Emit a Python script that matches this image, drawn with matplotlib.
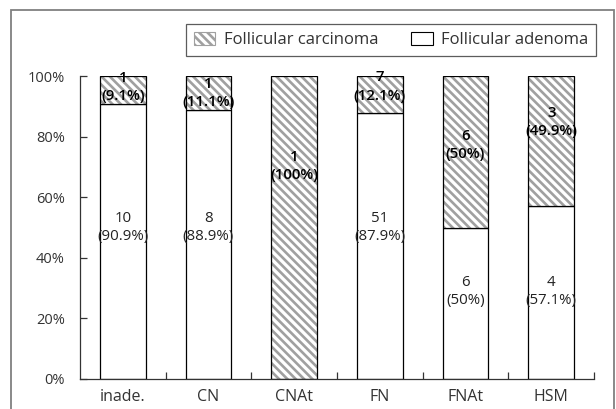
import matplotlib
matplotlib.use("Agg")
import matplotlib.pyplot as plt
from matplotlib.patches import Rectangle, Patch
import numpy as np

plt.rcParams['font.family'] = ['Open Sans', 'DejaVu Sans']
plt.rcParams['hatch.linewidth'] = 1.9

categories = ['inade.', 'CN', 'CNAt', 'FN', 'FNAt', 'HSM']
adenoma_n = [10, 8, 0, 51, 6, 4]
adenoma_pct = [90.9, 88.9, 0.0, 87.9, 50.0, 57.1]
adenoma_txt = ['(90.9%)', '(88.9%)', '', '(87.9%)', '(50%)', '(57.1%)']
carcinoma_n = [1, 1, 1, 7, 6, 3]
carcinoma_pct = [9.1, 11.1, 100.0, 12.1, 50.0, 42.9]
carcinoma_txt = ['(9.1%)', '(11.1%)', '(100%)', '(12.1%)', '(50%)', '(49.9%)']
# label anchor heights (percent scale)
carc_label_y = [99.4, 97.4, 73.4, 99.6, 80.2, 87.8]
aden_label_y = [53.1, 53.1, 0, 53.1, 32.0, 32.0]
yticks = [0, 20, 40, 60, 80, 100]

W, H = 616, 409
fig = plt.figure(figsize=(W / 100, H / 100), dpi=100)
ax = fig.add_axes([80 / W, 1 - 379 / H, (594 - 80) / W, (379 - 76) / H])

x = np.arange(len(categories))
bw = 0.53
hatch_col = '#a0a0a0'
HATCH = '\\\\\\\\'
FS = 10.8
# adenoma (white)
ax.bar(x, adenoma_pct, bw, color='white', edgecolor='black', linewidth=0.9, zorder=2)
# carcinoma hatched fill
ax.bar(x, carcinoma_pct, bw, bottom=adenoma_pct, color='white', edgecolor=hatch_col,
       hatch=HATCH, linewidth=0, zorder=2)
ax.bar(x, carcinoma_pct, bw, bottom=adenoma_pct, fill=False, edgecolor='black',
       linewidth=0.9, zorder=3)

dy = 6.1
for i in range(len(categories)):
    if adenoma_n[i] > 0:
        ax.text(x[i], aden_label_y[i], str(adenoma_n[i]), ha='center', va='center',
                fontsize=FS, color='#222222', zorder=5)
        ax.text(x[i], aden_label_y[i] - dy, adenoma_txt[i], ha='center', va='center',
                fontsize=FS, color='#222222', zorder=5)
    ax.text(x[i], carc_label_y[i], str(carcinoma_n[i]), ha='center', va='center',
            fontsize=FS, fontweight='semibold', color='black', zorder=5)
    ax.text(x[i], carc_label_y[i] - dy, carcinoma_txt[i], ha='center', va='center',
            fontsize=FS, fontweight='semibold', color='black', zorder=5)

ax.set_xlim(-0.5, len(categories) - 0.5)
ax.set_ylim(0, 100)
ax.spines['top'].set_visible(False)
ax.spines['right'].set_visible(False)
for s in ['left', 'bottom']:
    ax.spines[s].set_linewidth(0.9)
    ax.spines[s].set_color('#333333')

ax.set_yticks(yticks)
ax.set_yticklabels([f'{v}%' for v in yticks])
ax.tick_params(axis='y', direction='in', length=5, width=0.9, pad=11,
               labelsize=10.5, labelcolor='#333333', color='#333333')
ax.set_xticks(x)
ax.set_xticklabels(categories)
ax.set_xticks(np.arange(len(categories)) + 0.5, minor=True)
ax.tick_params(axis='x', which='major', length=0, pad=7, labelsize=11.5, labelcolor='#333333')
ax.tick_params(axis='x', which='minor', direction='in', length=5, width=0.9, color='#333333')

handles = [Patch(facecolor='white', edgecolor=hatch_col, hatch=HATCH, linewidth=0.8),
           Patch(facecolor='white', edgecolor='black', linewidth=0.8)]
leg = fig.legend(handles, ['Follicular carcinoma', 'Follicular adenoma'],
                 loc='upper left', bbox_to_anchor=(186 / W, 1 - 24 / H), ncol=2,
                 frameon=True, fancybox=False, shadow=False, fontsize=12,
                 handlelength=1.3, handleheight=0.9, columnspacing=2.0,
                 handletextpad=0.5, borderpad=0.45, borderaxespad=0)
leg.get_frame().set_edgecolor('#333333')
leg.get_frame().set_linewidth(0.9)
for t in leg.get_texts():
    t.set_color('#333333')

frame = Rectangle((11 / W, -0.2), (614 - 11) / W, 1.2 - 10 / H, transform=fig.transFigure,
                  fill=False, edgecolor='#808080', linewidth=1.3, clip_on=False)
fig.patches.append(frame)

fig.savefig('out.png', dpi=100)
